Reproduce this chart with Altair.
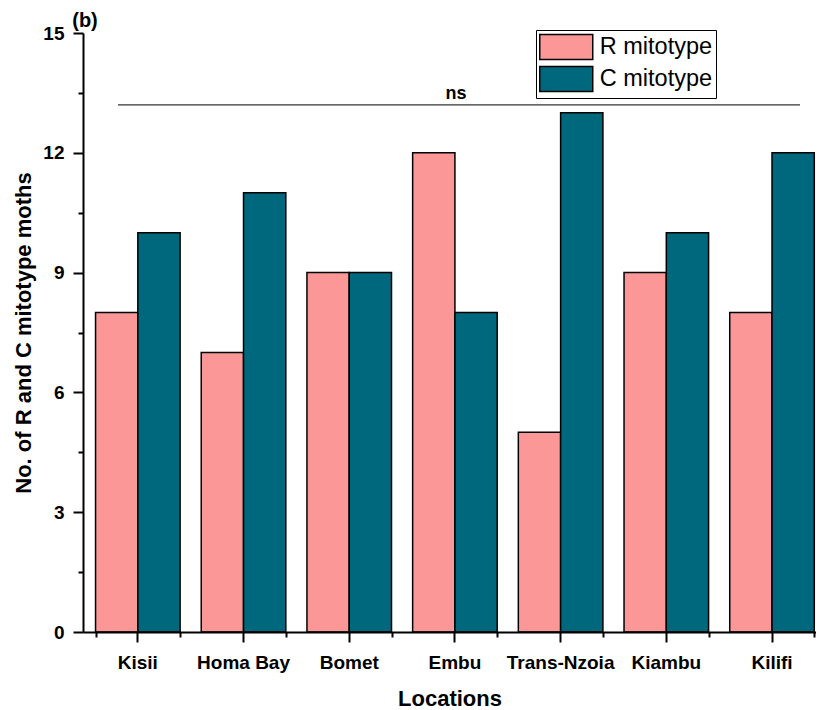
import altair as alt
import pandas as pd

locations = ["Kisii", "Homa Bay", "Bomet", "Embu", "Trans-Nzoia", "Kiambu", "Kilifi"]
r_counts = [8, 7, 9, 12, 5, 9, 8]
c_counts = [10, 11, 9, 8, 13, 10, 12]
series = ["R mitotype", "C mitotype"]
colors = ["#FC9797", "#00687D"]
y_major = [0, 3, 6, 9, 12, 15]
y_minor = [1.5, 4.5, 7.5, 10.5, 13.5]
ns_level = [13.2]
ns_label = ["ns"]
panel_label = ["(b)"]

rows = []
for loc, r, c in zip(locations, r_counts, c_counts):
    rows.append({"loc": loc, "type": series[0], "value": r})
    rows.append({"loc": loc, "type": series[1], "value": c})
df = pd.DataFrame(rows)
ns_df = pd.DataFrame({"level": ns_level, "label": ns_label})
lab_df = pd.DataFrame({"label": panel_label})

FONT = "Liberation Sans"

x_scale = alt.Scale(domain=locations, paddingInner=0.2, paddingOuter=0.0675, align=0.88)
y_scale = alt.Scale(domain=[0, 15], nice=False, zero=True)
off_scale = alt.Scale(domain=series, paddingInner=0, paddingOuter=0)

bars = alt.Chart(df).mark_bar(stroke="black", strokeWidth=1.5).encode(
    x=alt.X("loc:N", scale=x_scale, sort=locations,
            axis=alt.Axis(title="Locations", orient="bottom", labelAngle=0,
                          domainColor="black", domainWidth=2,
                          tickColor="black", tickWidth=2, tickSize=10,
                          labelFont=FONT, labelFontSize=19, labelFontWeight="bold",
                          labelColor="black", labelPadding=11,
                          titleFont=FONT, titleFontSize=22, titleFontWeight="bold",
                          titleColor="black", titlePadding=16, grid=False, zindex=1)),
    xOffset=alt.XOffset("type:N", scale=off_scale, sort=series),
    y=alt.Y("value:Q", scale=y_scale,
            axis=alt.Axis(title="No. of R and C mitotype moths", orient="left",
                          values=y_major, domainColor="black", domainWidth=2,
                          tickColor="black", tickWidth=2, tickSize=10,
                          labelFont=FONT, labelFontSize=19, labelFontWeight="bold",
                          labelColor="black", labelPadding=9,
                          titleFont=FONT, titleFontSize=22, titleFontWeight="bold",
                          titleColor="black", titlePadding=7, grid=False, zindex=1)),
    color=alt.Color("type:N", scale=alt.Scale(domain=series, range=colors), sort=series,
                    legend=alt.Legend(title=None, orient="none", legendX=453, legendY=-3,
                                      fillColor="white", strokeColor="black",
                                      padding=3, rowPadding=0,
                                      symbolType="M-2,-0.94H2V0.94H-2Z", symbolSize=702,
                                      symbolOffset=13.25,
                                      symbolStrokeColor="black", symbolStrokeWidth=1.5,
                                      symbolOpacity=1,
                                      labelFont=FONT, labelFontSize=23.5, labelColor="black",
                                      labelOffset=19.5)),
)

minor = alt.Chart(df).mark_bar(opacity=0).encode(
    x=alt.X("loc:N", scale=x_scale, sort=locations,
            axis=alt.Axis(title=None, orient="bottom", tickBand="extent", labels=False,
                          domain=False, tickColor="black", tickWidth=2, tickSize=5,
                          grid=False)),
    xOffset=alt.XOffset("type:N", scale=off_scale, sort=series),
    y=alt.Y("value:Q", scale=y_scale,
            axis=alt.Axis(title=None, orient="left", values=y_minor, labels=False,
                          domain=False, tickColor="black", tickWidth=2, tickSize=5,
                          grid=False)),
)

ns_rule = alt.Chart(ns_df).mark_rule(color="#333333", strokeWidth=1.3).encode(
    y=alt.Y("level:Q", scale=y_scale, axis=None),
    x=alt.value(35), x2=alt.value(717),
)
ns_text = alt.Chart(ns_df).mark_text(font=FONT, fontSize=18, fontWeight="bold",
                                     baseline="bottom", dy=-2, color="black").encode(
    y=alt.Y("level:Q", scale=y_scale, axis=None),
    x=alt.value(373), text="label:N",
)
panel = alt.Chart(lab_df).mark_text(font=FONT, fontSize=20, fontWeight="bold",
                                    baseline="middle", color="black").encode(
    x=alt.value(2), y=alt.value(-12), text="label:N",
)

chart = alt.layer(bars, minor, ns_rule, ns_text, panel).resolve_axis(
    x="independent", y="independent"
).properties(
    width=733, height=599,
    autosize=alt.AutoSizeParams(type="none"),
    padding={"left": 75, "top": 25, "right": 0, "bottom": 85},
).configure_view(stroke=None)

chart.save("out.html", embed_options={"renderer": "svg", "actions": False})
